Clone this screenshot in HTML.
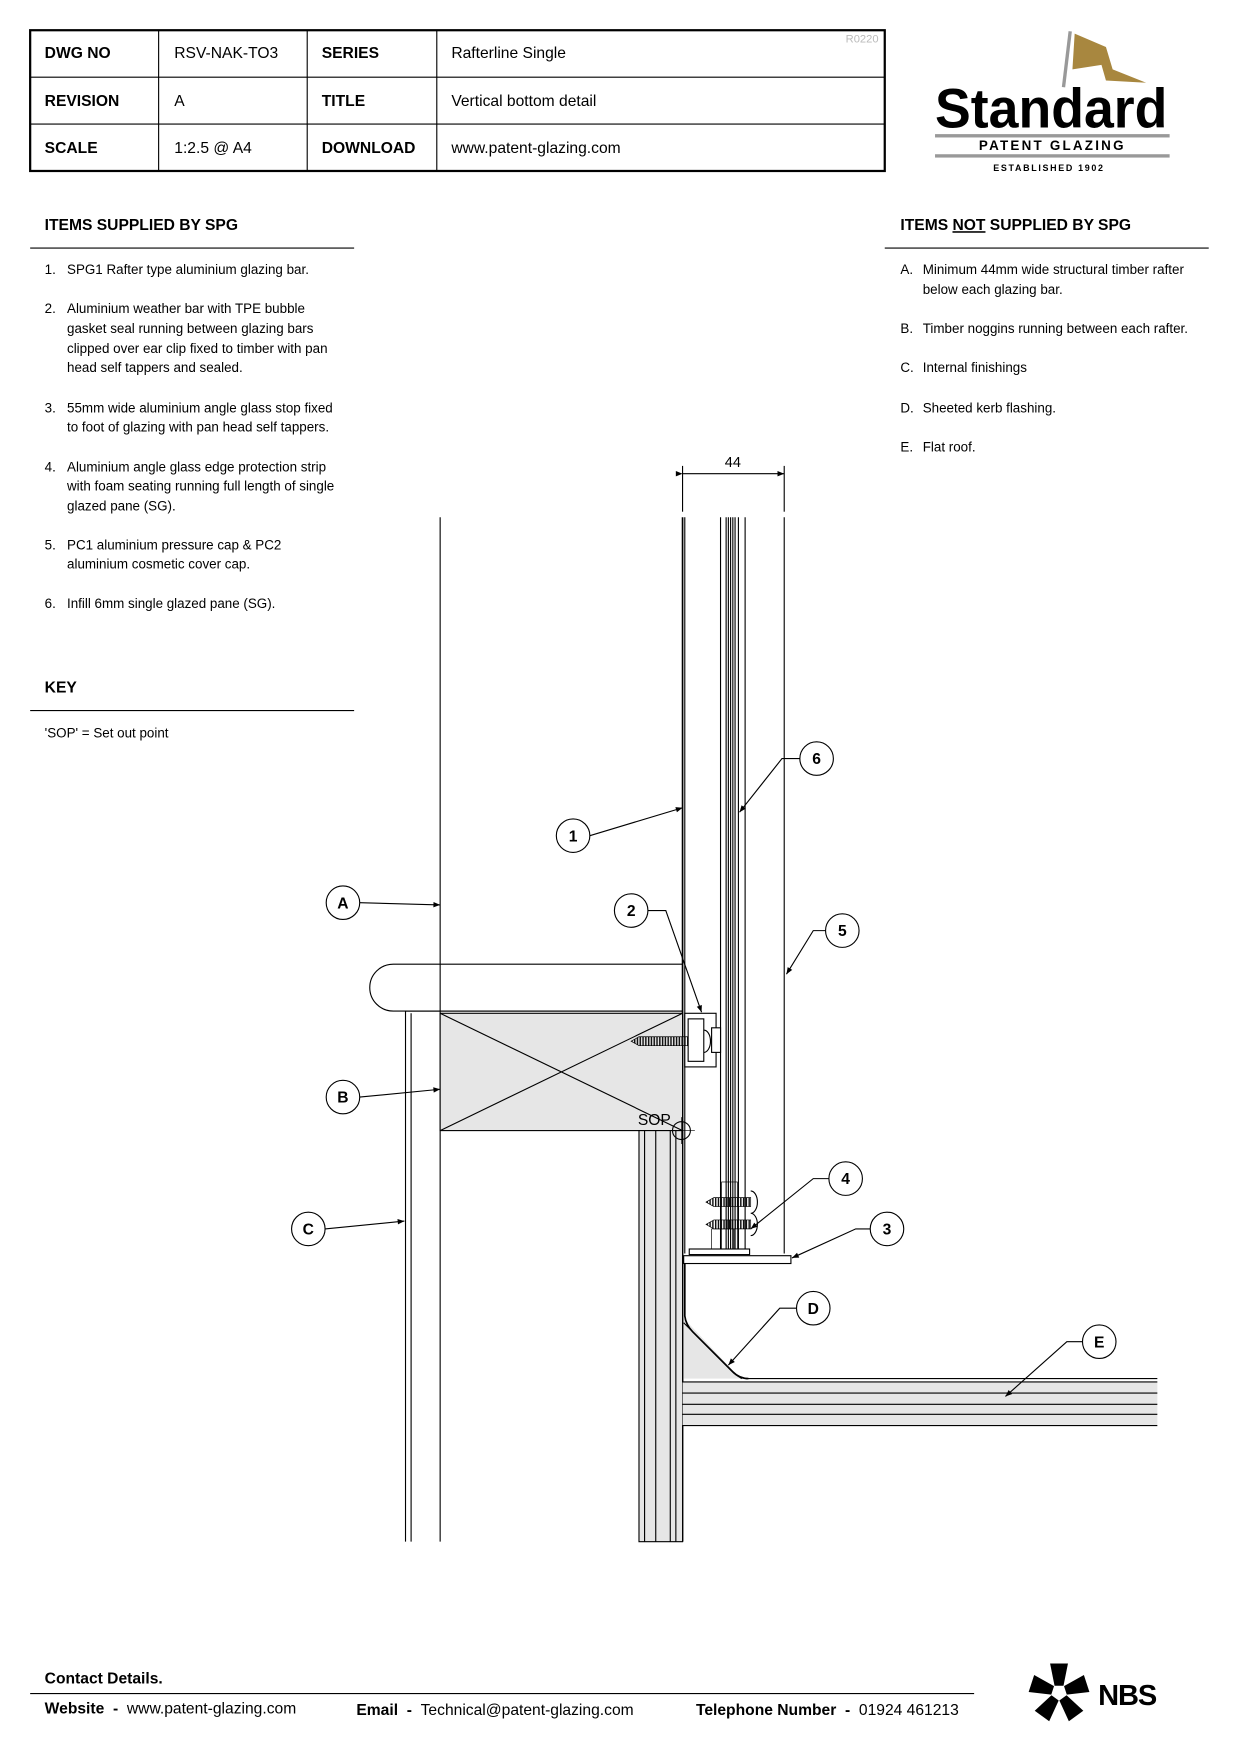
<!DOCTYPE html>
<html><head><meta charset="utf-8"><style>
html,body{margin:0;padding:0;background:#fff}
svg{display:block}
text{font-family:"Liberation Sans",sans-serif}
</style></head><body>
<svg width="1240" height="1754" viewBox="0 0 1110 1570" xmlns="http://www.w3.org/2000/svg">
<defs><marker id="ar" viewBox="0 0 10 10" refX="10" refY="5" markerWidth="10" markerHeight="6" orient="auto" markerUnits="userSpaceOnUse"><path d="M0,1 L10,5 L0,9z" fill="#000"/></marker>
<pattern id="scr" width="2.5" height="10" patternUnits="userSpaceOnUse"><rect width="1.3" height="10" fill="#111"/></pattern></defs>
<rect width="1110" height="1570" fill="#fff"/>
<!-- title table -->
<rect x="27" y="27" width="765" height="126" fill="none" stroke="#000" stroke-width="2"/>
<g stroke="#000" stroke-width="1"><line x1="27" y1="69" x2="792" y2="69"/><line x1="27" y1="111" x2="792" y2="111"/>
<line x1="142" y1="27" x2="142" y2="153"/><line x1="275" y1="27" x2="275" y2="153"/><line x1="391" y1="27" x2="391" y2="153"/></g>
<g font-size="14"><text x="40" y="52" font-weight="bold">DWG NO</text><text x="156" y="52">RSV-NAK-TO3</text><text x="288" y="52" font-weight="bold">SERIES</text><text x="404" y="52">Rafterline Single</text>
<text x="40" y="95" font-weight="bold">REVISION</text><text x="156" y="95">A</text><text x="288" y="95" font-weight="bold">TITLE</text><text x="404" y="95">Vertical bottom detail</text>
<text x="40" y="137" font-weight="bold">SCALE</text><text x="156" y="137">1:2.5 @ A4</text><text x="288" y="137" font-weight="bold">DOWNLOAD</text><text x="404" y="137">www.patent-glazing.com</text></g>
<text x="757" y="38" font-size="10" fill="#bbb">R0220</text>
<!-- logo -->
<line x1="958" y1="28" x2="952" y2="78" stroke="#999" stroke-width="3"/>
<path d="M962,30 L990,42 L996,62 L1026,74 L990,72 L986,58 L960,62z" fill="#a8873f"/>
<text x="837" y="114" font-family="Liberation Serif,serif" font-size="50" font-weight="bold" textLength="208" lengthAdjust="spacingAndGlyphs">Standard</text>
<rect x="837" y="120" width="210" height="3" fill="#999"/>
<text x="942" y="134" font-size="12" font-weight="bold" text-anchor="middle" letter-spacing="2">PATENT GLAZING</text>
<rect x="837" y="138" width="210" height="3" fill="#999"/>
<text x="939" y="153" font-size="8" font-weight="bold" text-anchor="middle" letter-spacing="1.5">ESTABLISHED 1902</text>
<!-- left lists -->
<text x="40" y="206" font-size="14" font-weight="bold">ITEMS SUPPLIED BY SPG</text>
<line x1="27" y1="222" x2="317" y2="222" stroke="#000"/>
<g font-size="12">
<text x="40" y="245">1.</text><text x="60" y="245">SPG1 Rafter type aluminium glazing bar.</text>
<text x="40" y="280">2.</text><text x="60" y="280">Aluminium weather bar with TPE bubble</text><text x="60" y="298">gasket seal running between glazing bars</text><text x="60" y="316">clipped over ear clip fixed to timber with pan</text><text x="60" y="333">head self tappers and sealed.</text>
<text x="40" y="369">3.</text><text x="60" y="369">55mm wide aluminium angle glass stop fixed</text><text x="60" y="386">to foot of glazing with pan head self tappers.</text>
<text x="40" y="422">4.</text><text x="60" y="422">Aluminium angle glass edge protection strip</text><text x="60" y="439">with foam seating running full length of single</text><text x="60" y="457">glazed pane (SG).</text>
<text x="40" y="492">5.</text><text x="60" y="492">PC1 aluminium pressure cap &amp; PC2</text><text x="60" y="509">aluminium cosmetic cover cap.</text>
<text x="40" y="544">6.</text><text x="60" y="544">Infill 6mm single glazed pane (SG).</text>
</g>
<text x="40" y="620" font-size="14" font-weight="bold">KEY</text>
<line x1="27" y1="636" x2="317" y2="636" stroke="#000"/>
<text x="40" y="660" font-size="12">'SOP' = Set out point</text>
<!-- right list -->
<text x="806" y="206" font-size="14" font-weight="bold">ITEMS <tspan text-decoration="underline">NOT</tspan> SUPPLIED BY SPG</text>
<line x1="792" y1="222" x2="1082" y2="222" stroke="#000"/>
<g font-size="12">
<text x="806" y="245">A.</text><text x="826" y="245">Minimum 44mm wide structural timber rafter</text><text x="826" y="263">below each glazing bar.</text>
<text x="806" y="298">B.</text><text x="826" y="298">Timber noggins running between each rafter.</text>
<text x="806" y="333">C.</text><text x="826" y="333">Internal finishings</text>
<text x="806" y="369">D.</text><text x="826" y="369">Sheeted kerb flashing.</text>
<text x="806" y="404">E.</text><text x="826" y="404">Flat roof.</text>
</g>
<!-- drawing -->
<g stroke="#000" stroke-width="1" fill="none">
<line x1="611" y1="417" x2="611" y2="458"/><line x1="702" y1="417" x2="702" y2="458"/>
<line x1="611" y1="424" x2="702" y2="424" marker-end="url(#ar)" marker-start="url(#ar)"/>
<line x1="394" y1="463" x2="394" y2="1380"/>
<line x1="611" y1="463" x2="611" y2="1380" stroke-width="1.5"/>
<line x1="613" y1="463" x2="613" y2="1122"/>
<line x1="645" y1="463" x2="645" y2="1118"/>
<line x1="650" y1="463" x2="650" y2="1118"/><line x1="652" y1="463" x2="652" y2="1118"/><line x1="654" y1="463" x2="654" y2="1118"/><line x1="656" y1="463" x2="656" y2="1118"/><line x1="658" y1="463" x2="658" y2="1118"/>
<line x1="661" y1="463" x2="661" y2="1118"/>
<line x1="667" y1="463" x2="667" y2="1118"/>
<line x1="702" y1="463" x2="702" y2="1122"/>
<path d="M611,863 L352,863 A21,21 0 0 0 352,905 L611,905"/>
<line x1="363" y1="905" x2="363" y2="1380"/><line x1="368" y1="907" x2="368" y2="1380"/>
<line x1="363" y1="905" x2="611" y2="905"/>
</g>
<rect x="394" y="907" width="217" height="105" fill="#e6e6e6" stroke="#000"/>
<g stroke="#000" fill="none"><line x1="394" y1="907" x2="611" y2="1012"/><line x1="394" y1="1012" x2="611" y2="907"/></g>
<rect x="572" y="1012" width="39" height="368" fill="#e6e6e6" stroke="#000"/>
<g stroke="#000"><line x1="577" y1="1012" x2="577" y2="1380"/><line x1="587" y1="1012" x2="587" y2="1380"/><line x1="600" y1="1012" x2="600" y2="1380"/><line x1="605" y1="1012" x2="605" y2="1380"/></g>
<g stroke="#000" fill="#fff"><rect x="613" y="907" width="28" height="48"/><rect x="616" y="912" width="14" height="38"/><rect x="637" y="920" width="8" height="22"/></g>
<path d="M630,922 A6,10 0 0 1 630,942" stroke="#000" fill="none"/>
<path d="M565,932 L572,928 L616,928 L616,936 L572,936z" fill="url(#scr)" stroke="#000" stroke-width="0.6"/>
<text x="571" y="1007" font-size="14">SOP</text>
<circle cx="610" cy="1012" r="8" fill="none" stroke="#000"/>
<line x1="598" y1="1012" x2="622" y2="1012" stroke="#000" stroke-width="0.6"/><line x1="610" y1="1000" x2="610" y2="1024" stroke="#000" stroke-width="0.6"/>
<g stroke="#000" stroke-width="0.6" fill="none"><rect x="646" y="1058" width="14" height="60"/><rect x="637" y="1100" width="20" height="18"/></g>
<path d="M632,1076 L639,1072 L672,1072 L672,1080 L639,1080z" fill="url(#scr)" stroke="#000" stroke-width="0.6"/>
<path d="M632,1096 L639,1092 L672,1092 L672,1100 L639,1100z" fill="url(#scr)" stroke="#000" stroke-width="0.6"/>
<path d="M672,1066 A6,10 0 0 1 672,1086 M672,1086 A6,10 0 0 1 672,1106" stroke="#000" fill="none"/>
<rect x="612" y="1124" width="96" height="7" fill="#fff" stroke="#000"/>
<rect x="617" y="1118" width="54" height="5" fill="#fff" stroke="#000"/>
<path d="M612,1180 L612,1234 L663,1234z" fill="#e6e6e6"/>
<rect x="611" y="1237" width="425" height="39" fill="#e6e6e6"/>
<g stroke="#000" fill="none">
<line x1="668" y1="1234" x2="1036" y2="1234"/><line x1="611" y1="1237" x2="1036" y2="1237"/><line x1="611" y1="1247" x2="1036" y2="1247"/><line x1="611" y1="1257" x2="1036" y2="1257"/><line x1="611" y1="1266" x2="1036" y2="1266"/><line x1="611" y1="1276" x2="1036" y2="1276"/>
<path d="M613,1131 L613,1178 Q614,1186 620,1192 L656,1228 Q662,1234 670,1234" stroke-width="1.5"/>
<path d="M612,1184 L650,1222 Q657,1230 664,1234"/>
</g>
<g stroke="#000" fill="none">
<line x1="528" y1="748" x2="611" y2="723" marker-end="url(#ar)"/>
<polyline points="716,679 700,679 662,727" marker-end="url(#ar)"/>
<line x1="322" y1="808" x2="394" y2="810" marker-end="url(#ar)"/>
<polyline points="580,815 596,815 628,906" marker-end="url(#ar)"/>
<polyline points="739,833 728,833 704,872" marker-end="url(#ar)"/>
<line x1="322" y1="982" x2="394" y2="975" marker-end="url(#ar)"/>
<polyline points="742,1055 728,1055 672,1100" marker-end="url(#ar)"/>
<polyline points="779,1100 766,1100 709,1126" marker-end="url(#ar)"/>
<line x1="291" y1="1100" x2="362" y2="1093" marker-end="url(#ar)"/>
<polyline points="713,1171 698,1171 652,1222" marker-end="url(#ar)"/>
<polyline points="969,1201 955,1201 900,1250" marker-end="url(#ar)"/>
</g>
<g stroke="#000" fill="#fff">
<circle cx="513" cy="748" r="15"/><circle cx="731" cy="679" r="15"/><circle cx="307" cy="808" r="15"/><circle cx="565" cy="815" r="15"/><circle cx="754" cy="833" r="15"/><circle cx="307" cy="982" r="15"/><circle cx="757" cy="1055" r="15"/><circle cx="794" cy="1100" r="15"/><circle cx="276" cy="1100" r="15"/><circle cx="728" cy="1171" r="15"/><circle cx="984" cy="1201" r="15"/>
</g>
<g font-size="14" font-weight="bold" text-anchor="middle">
<text x="513" y="753">1</text><text x="731" y="684">6</text><text x="307" y="813">A</text><text x="565" y="820">2</text><text x="754" y="838">5</text><text x="307" y="987">B</text><text x="757" y="1060">4</text><text x="794" y="1105">3</text><text x="276" y="1105">C</text><text x="728" y="1176">D</text><text x="984" y="1206">E</text>
</g>
<text x="656" y="418" font-size="13" text-anchor="middle">44</text>
<text x="40" y="1507" font-size="14" font-weight="bold">Contact Details.</text>
<line x1="27" y1="1516" x2="872" y2="1516" stroke="#000"/>
<g font-size="14"><text x="40" y="1534" xml:space="preserve"><tspan font-weight="bold">Website  -  </tspan>www.patent-glazing.com</text>
<text x="319" y="1535" xml:space="preserve"><tspan font-weight="bold">Email  -  </tspan>Technical@patent-glazing.com</text>
<text x="623" y="1535" xml:space="preserve"><tspan font-weight="bold">Telephone Number  -  </tspan>01924 461213</text></g>
<g fill="#000" transform="translate(948,1515)">
<g id="pt"><path d="M-4,-6 L4,-6 L8,-26 L-8,-26z"/></g>
<use href="#pt" transform="rotate(72)"/><use href="#pt" transform="rotate(144)"/><use href="#pt" transform="rotate(216)"/><use href="#pt" transform="rotate(288)"/>
</g>
<text x="983" y="1526" font-size="26" font-weight="bold" letter-spacing="-1">NBS</text>
</svg>
</body></html>
